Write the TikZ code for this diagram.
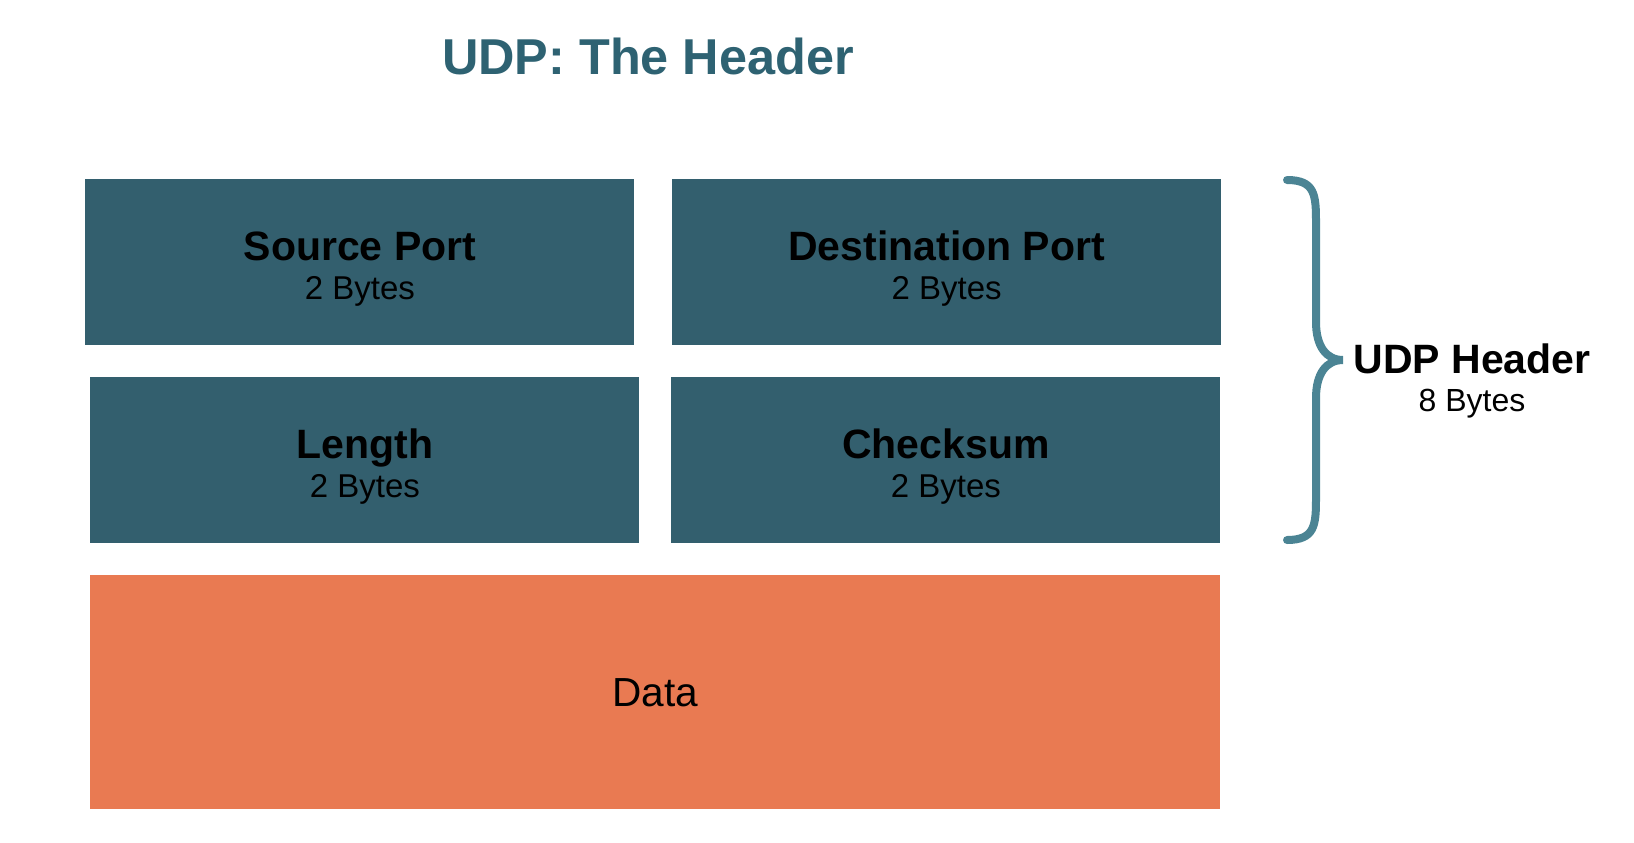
\documentclass[tikz,border=0pt]{standalone}
\usepackage{fontspec}
\setmainfont{Liberation Sans}
\usepackage{xcolor}
\usetikzlibrary{positioning}

\definecolor{fieldteal}{HTML}{335F6E}
\definecolor{titleteal}{HTML}{2E6272}
\definecolor{braceteal}{HTML}{4B8494}
\definecolor{dataorange}{HTML}{E97A52}

\newcommand{\fieldlabel}[2]{\rule{0pt}{21pt}#1\\{\mdseries\fontsize{16.5}{19.5}\selectfont #2}}

\begin{document}
\begin{tikzpicture}[
    x=0.5pt, y=-0.5pt,
    field/.style={rectangle, fill=fieldteal, inner sep=0pt, minimum width=274.5pt, minimum height=83pt, align=center, anchor=north west, font=\bfseries\fontsize{20.5}{19.5}\selectfont},
    payload/.style={rectangle, fill=dataorange, inner sep=0pt, minimum width=565pt, minimum height=117pt, anchor=north west, font=\fontsize{20.3}{24}\selectfont},
    bracket/.style={draw=braceteal, line width=4pt, line cap=round}
]
\useasboundingbox (0,0) rectangle (1634,842);

\node[font=\bfseries\fontsize{25.2}{30}\selectfont, text=titleteal] (title) at (648,56) {UDP: The Header};

\node[field] (srcport) at (85,179) {\fieldlabel{Source Port}{2 Bytes}};
\node[field, right=18.5pt of srcport] (dstport) {\fieldlabel{Destination Port}{2 Bytes}};
\node[field] (length) at (90,377) {\fieldlabel{Length}{2 Bytes}};
\node[field] (checksum) at (671,377) {\fieldlabel{Checksum}{2 Bytes}};
\node[payload] (data) at (90,575) {Data};

% brace round the header
\coordinate (bracetop) at (1287,180);
\coordinate (bracebot) at (1287,540);
\coordinate (bracetip) at (1343,360);
\draw[bracket] (bracetop) .. controls (1315,180) and (1316,195) .. (1316,222) -- (1316,322)
    .. controls (1316,346) and (1326,360) .. (bracetip)
    .. controls (1326,360) and (1316,374) .. (1316,398) -- (1316,498)
    .. controls (1316,525) and (1315,540) .. (bracebot);

\node[align=center, font=\bfseries\fontsize{20.5}{19}\selectfont] (hdr) at (1472,381) {UDP Header\\{\mdseries\fontsize{16}{19}\selectfont 8 Bytes}};

\end{tikzpicture}
\end{document}
